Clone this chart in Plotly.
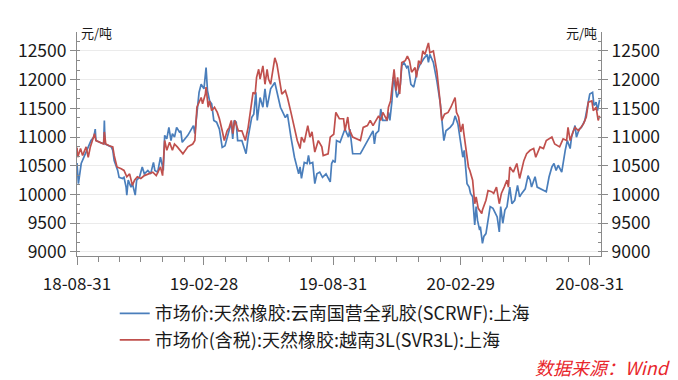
import pandas as pd
import plotly.graph_objects as go

# ---------------- data ----------------
START_DATE = "2018-08-31"

# 市场价:天然橡胶:云南国营全乳胶(SCRWF):上海  (day offset from START_DATE, 元/吨)
scrwf_days = [0, 2, 6, 10, 15, 20, 24, 26, 27, 32, 36, 38, 39, 40, 46, 49, 51, 53, 58, 60,
              65, 67, 70, 71, 73, 77, 79, 83, 85, 89, 93, 96, 101, 105, 109, 111, 115, 119, 121, 123,
              125, 128, 131, 134, 136, 139, 142, 146, 148, 150, 158, 166, 168, 172, 174, 177, 179, 181, 184, 186,
              189, 192, 195, 199, 203, 207, 211, 214, 217, 220, 222, 224, 227, 229, 235, 241, 244, 249, 252, 255,
              257, 261, 265, 268, 271, 273, 276, 282, 286, 290, 297, 300, 305, 310, 316, 318, 320, 324, 328, 330,
              332, 336, 339, 342, 346, 350, 355, 361, 363, 365, 368, 370, 375, 382, 387, 389, 393, 404, 408, 413,
              418, 422, 424, 426, 430, 433, 436, 442, 444, 446, 449, 451, 453, 456, 458, 461, 463, 466, 470, 472,
              476, 480, 485, 488, 494, 499, 501, 503, 508, 513, 518, 521, 523, 526, 532, 536, 539, 543, 548, 550,
              552, 553, 555, 556, 559, 561, 564, 567, 569, 571, 574, 575, 578, 580, 583, 586, 589, 593, 597, 599,
              602, 604, 607, 610, 613, 615, 617, 620, 624, 628, 631, 634, 639, 643, 646, 648, 653, 656, 665, 669,
              673, 677, 680, 683, 686, 691, 696, 699, 703, 705, 710, 712, 716, 719, 724, 728, 731, 735, 737, 740,
              742, 745]
scrwf_vals = [10550, 10190, 10540, 10650, 10800, 10940, 11000, 11140, 10940, 10910, 10890, 10890, 11290, 10880, 10850, 10830, 10770, 10590, 10420, 10300,
              10280, 10300, 10130, 9990, 10250, 10130, 10190, 9990, 10250, 10300, 10480, 10360, 10420, 10360, 10560, 10420, 10390, 10650, 10540, 10420,
              11030, 10970, 11170, 10940, 11060, 11000, 11170, 11090, 11110, 10910, 11030, 11200, 11060, 11600, 11780, 11920, 11890, 11840, 12210, 11810,
              11630, 11580, 11290, 11260, 11140, 10820, 10850, 11000, 11140, 11260, 10970, 11290, 11260, 10940, 10940, 10710, 11000, 11340, 11400, 11780,
              11290, 11690, 11520, 11840, 11520, 11660, 11840, 11950, 11750, 11520, 11340, 11400, 11000, 10650, 10360, 10480, 10280, 10560, 10540, 10680,
              10540, 10560, 10190, 10360, 10390, 10300, 10360, 10220, 10540, 10590, 10560, 10940, 10910, 11140, 11000, 11140, 10710, 10710, 10800, 10910,
              11000, 11110, 10880, 11060, 11110, 11490, 11290, 11290, 11430, 11290, 11630, 12040, 11920, 11690, 11750, 11920, 12240, 12300, 12210, 12240,
              11920, 11870, 12150, 12240, 12360, 12440, 12300, 12440, 12300, 11980, 11580, 11170, 10940, 11110, 11170, 11230, 11370, 11230, 10770, 10650,
              10770, 10590, 10360, 10190, 10130, 10020, 9960, 9470, 9790, 9550, 9380, 9440, 9150, 9270, 9320, 9550, 9790, 9760, 9670, 9610,
              9350, 9790, 9500, 9730, 9790, 10020, 10130, 9840, 9900, 10160, 9960, 10020, 10100, 10330, 10250, 10130, 10310, 10130, 10070, 10050,
              10310, 10480, 10540, 10420, 10510, 10390, 10770, 10940, 10800, 11000, 11200, 11000, 11140, 11170, 11290, 11520, 11750, 11780, 11550, 11610,
              11460, 11650]

# 市场价(含税):天然橡胶:越南3L(SVR3L):上海
svr3l_days = [0, 1, 5, 8, 13, 16, 19, 22, 25, 27, 32, 38, 39, 41, 46, 51, 53, 57, 63, 67,
              71, 75, 79, 82, 86, 91, 96, 103, 108, 113, 119, 122, 125, 128, 132, 136, 139, 143, 151, 158,
              165, 168, 171, 177, 179, 183, 184, 187, 189, 192, 196, 200, 203, 207, 210, 214, 217, 220, 222, 225,
              230, 235, 240, 244, 247, 251, 254, 256, 259, 261, 265, 268, 271, 273, 276, 282, 285, 289, 292, 297,
              300, 305, 310, 314, 318, 320, 324, 329, 332, 335, 339, 344, 349, 351, 358, 361, 366, 369, 374, 380,
              382, 386, 388, 393, 404, 408, 414, 418, 422, 425, 430, 433, 436, 442, 444, 447, 450, 452, 455, 457,
              460, 462, 463, 468, 471, 474, 477, 482, 484, 487, 490, 493, 496, 501, 503, 508, 513, 517, 520, 524,
              529, 533, 539, 541, 544, 547, 550, 551, 553, 556, 558, 560, 564, 567, 569, 572, 577, 578, 583, 586,
              591, 594, 598, 602, 605, 609, 613, 615, 617, 622, 627, 631, 634, 637, 641, 646, 651, 654, 660, 665,
              669, 677, 681, 688, 693, 698, 700, 703, 707, 710, 715, 722, 726, 729, 734, 736, 740, 743, 745]
svr3l_vals = [10820, 10650, 10800, 10680, 10830, 10650, 10830, 10970, 11060, 10940, 10910, 10880, 11090, 10880, 10850, 10830, 10680, 10480, 10450, 10420,
              10310, 10360, 10160, 10250, 10310, 10280, 10330, 10360, 10390, 10330, 10480, 10330, 10940, 10770, 10910, 10770, 10880, 10830, 10710, 10830,
              10880, 10940, 11520, 11690, 11580, 11750, 11870, 11520, 11630, 11460, 11520, 11430, 11320, 11110, 10940, 11110, 11170, 11290, 11060, 11290,
              11110, 11110, 10940, 11170, 11400, 11780, 11750, 12040, 12180, 12010, 12240, 11920, 12180, 12010, 11920, 12380, 12270, 11920, 11750, 11810,
              11690, 11430, 11170, 10940, 10800, 11000, 10910, 11200, 11000, 11090, 10740, 10940, 10830, 10680, 10710, 11000, 11050, 11430, 11320, 11320,
              11110, 11350, 11140, 11000, 10940, 11170, 11200, 11290, 11200, 11260, 11370, 11290, 11430, 11290, 11520, 11630, 12040, 12180, 11810, 12040,
              11750, 12150, 12300, 12330, 12410, 12330, 12130, 12210, 12040, 12330, 12270, 12500, 12440, 12640, 12470, 12500, 12150, 11690, 11290, 11400,
              11430, 11520, 11690, 11430, 11350, 11090, 11230, 11110, 10940, 10710, 10480, 10420, 10250, 9840, 9960, 9760, 9670, 9730, 9900, 10070,
              10050, 10020, 10130, 9840, 10020, 10130, 10250, 10130, 10480, 10390, 10540, 10280, 10420, 10590, 10710, 10770, 10800, 10650, 10830, 10800,
              10940, 11000, 10880, 10830, 10970, 10940, 11170, 10940, 11090, 11170, 11110, 11230, 11350, 11610, 11630, 11460, 11520, 11290, 11370]

series_names = ["市场价:天然橡胶:云南国营全乳胶(SCRWF):上海",
                "市场价(含税):天然橡胶:越南3L(SVR3L):上海"]
series_colors = ["#4a7ebb", "#c0504d"]

x_tick_dates = ["2018-08-31", "2019-02-28", "2019-08-31", "2020-02-29", "2020-08-31"]
x_tick_labels = ["18-08-31", "19-02-28", "19-08-31", "20-02-29", "20-08-31"]
x_range = ["2018-08-31", "2020-09-16"]
y_range = [8930, 12830]
unit_label = "元/吨"
source_label = "数据来源：Wind"

# ---------------- figure ----------------
start = pd.Timestamp(START_DATE)
blue_x = start + pd.to_timedelta(scrwf_days, unit="D")
red_x = start + pd.to_timedelta(svr3l_days, unit="D")
month_ends = pd.date_range("2018-09-30", "2020-07-31", freq="ME")

FONT = "Noto Sans CJK SC, Noto Sans, sans-serif"

fig = go.Figure()
fig.add_trace(go.Scatter(x=blue_x, y=scrwf_vals, mode="lines", name=series_names[0],
                         line=dict(color=series_colors[0], width=1.7), yaxis="y"))
fig.add_trace(go.Scatter(x=red_x, y=svr3l_vals, mode="lines", name=series_names[1],
                         line=dict(color=series_colors[1], width=1.7), yaxis="y2"))

axis_col = "#8a8a8a"
yax = dict(range=y_range, tick0=9000, dtick=500, tickformat="d",
           showline=True, linecolor=axis_col, linewidth=1, ticks="outside", ticklen=6, tickcolor=axis_col,
           tickfont=dict(size=17.5, color="#1a1a1a", family=FONT), zeroline=False, fixedrange=True,
           minor=dict(tick0=9000, dtick=500 / 3, ticks="inside", ticklen=3, tickcolor=axis_col, showgrid=False))

fig.update_layout(
    width=678, height=380,
    margin=dict(l=77, r=77, t=32, b=124),
    paper_bgcolor="white", plot_bgcolor="white",
    font=dict(family=FONT, color="#1a1a1a"),
    xaxis=dict(type="date", range=x_range, tickmode="array", tickvals=x_tick_dates, ticktext=x_tick_labels,
               showgrid=False, showline=True, linecolor=axis_col, linewidth=1, ticks="outside", ticklen=8,
               tickcolor=axis_col, tickfont=dict(size=17, color="#1a1a1a", family=FONT), ticklabelstandoff=5,
               zeroline=False, fixedrange=True,
               minor=dict(tickmode="array", tickvals=list(month_ends), ticks="outside", ticklen=5,
                          tickcolor=axis_col, showgrid=False)),
    yaxis=dict(side="left", showgrid=True, gridcolor="#ebebeb", gridwidth=1, **yax),
    yaxis2=dict(side="right", overlaying="y", showgrid=False, **yax),
    showlegend=True,
    legend=dict(x=0.072, xanchor="left", y=-0.175, yanchor="top", orientation="v",
                font=dict(size=18, color="#1a1a1a", family=FONT), bgcolor="rgba(0,0,0,0)",
                tracegroupgap=0, itemwidth=30),
    annotations=[
        dict(text=unit_label, xref="paper", yref="paper", x=0, y=1, xanchor="left", yanchor="middle",
             xshift=2, showarrow=False, font=dict(size=13, color="#1a1a1a", family=FONT)),
        dict(text=unit_label, xref="paper", yref="paper", x=1, y=1, xanchor="right", yanchor="middle",
             xshift=-2, showarrow=False, font=dict(size=13, color="#1a1a1a", family=FONT)),
        dict(text="<i>" + source_label + "</i>", xref="paper", yref="paper", x=1.137, y=-0.496,
             xanchor="right", yanchor="middle", showarrow=False,
             font=dict(size=18, color="#e8262c", family=FONT)),
    ],
)

fig.write_html("out.html", config={"displayModeBar": False},
               post_script="document.body.style.margin='0';document.body.style.padding='0';")
